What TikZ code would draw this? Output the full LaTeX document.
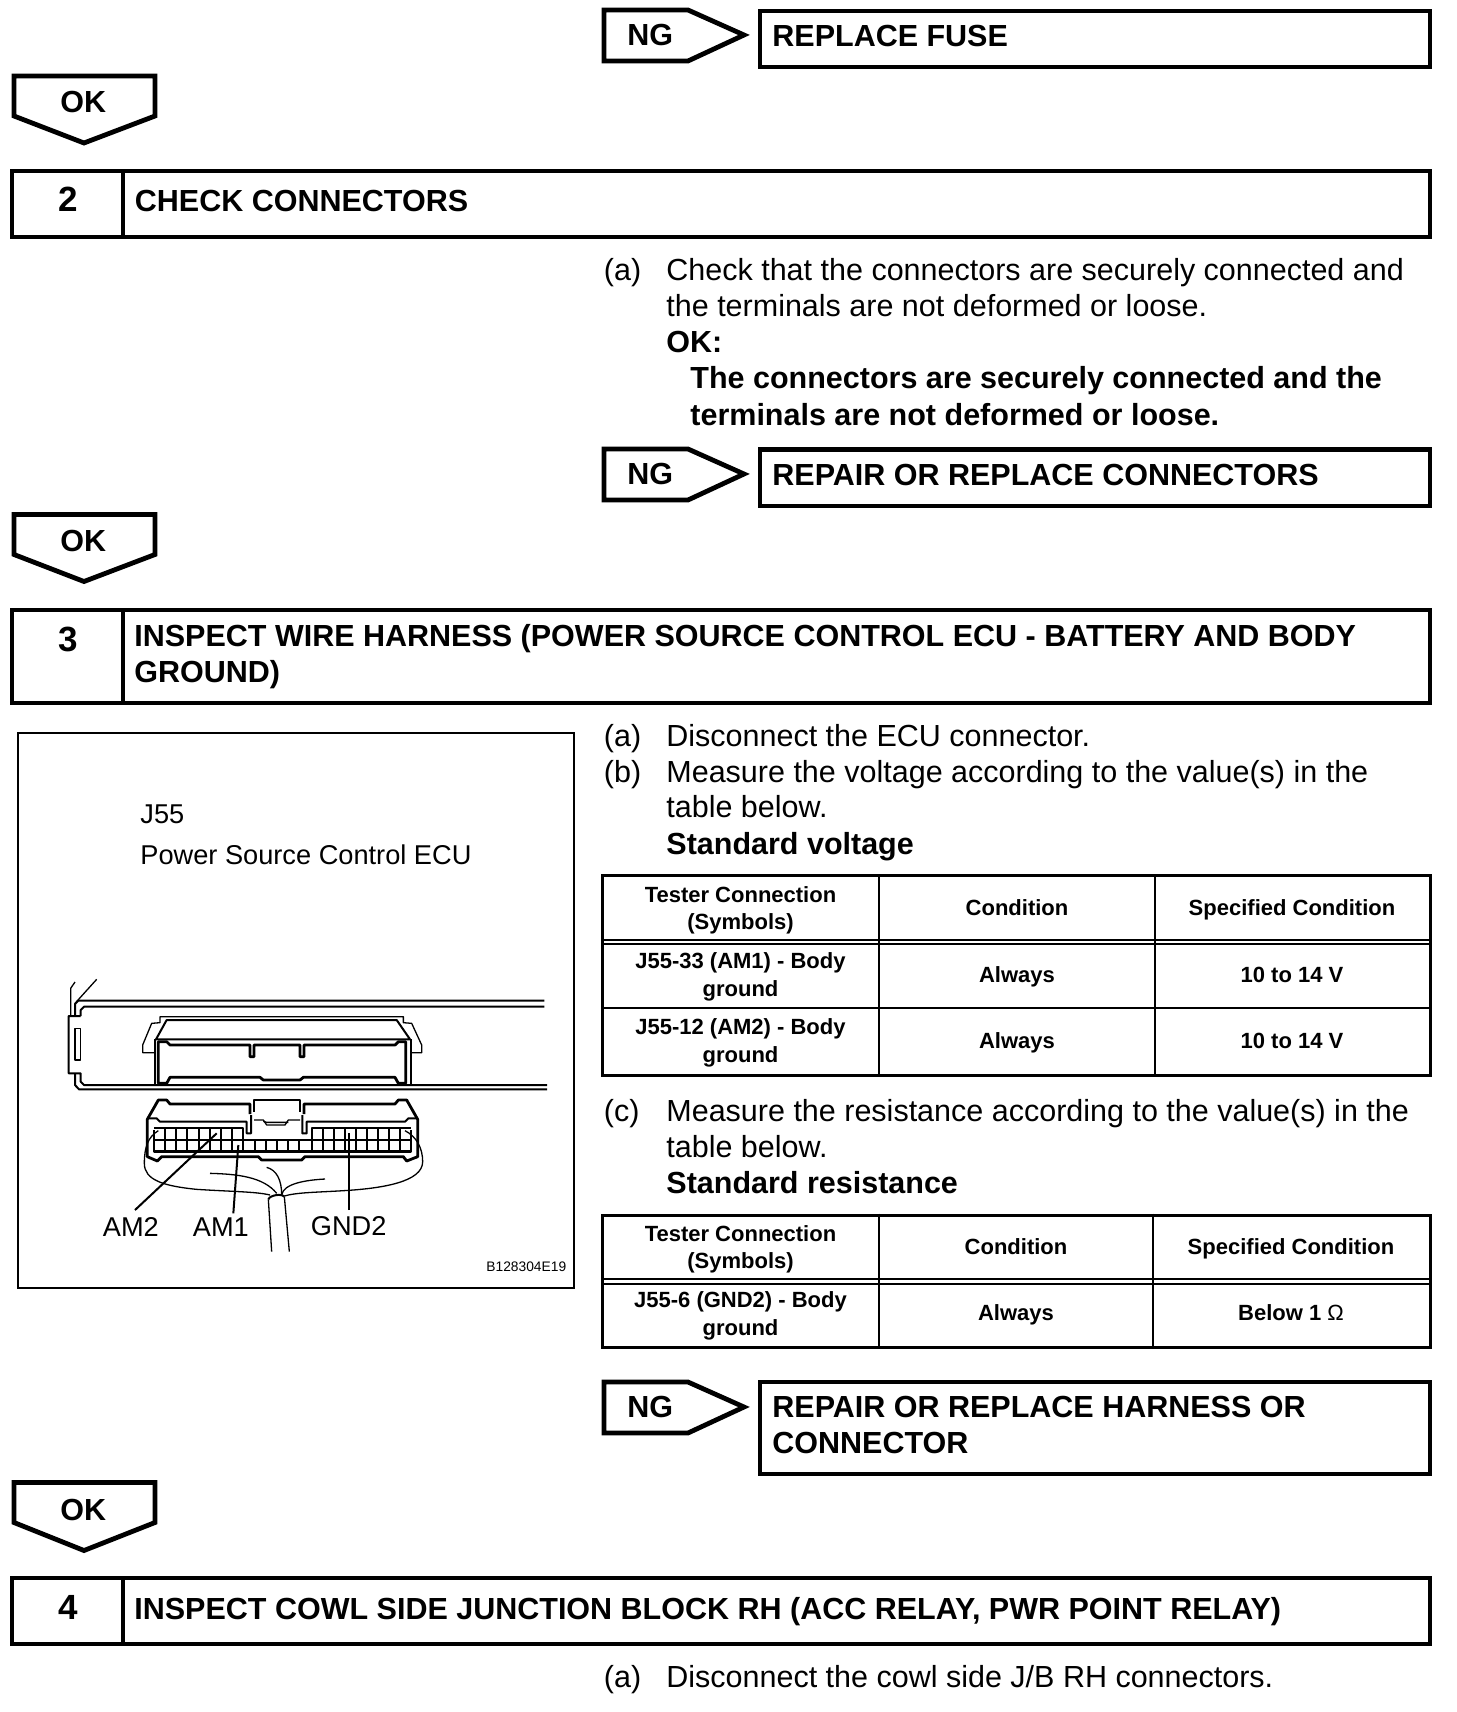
\documentclass[tikz,border=0pt]{standalone}
\usepackage{fontspec}
\setmainfont{Liberation Sans}
\tikzset{
  body/.style={anchor=base west,inner sep=0pt,font=\fontsize{15.25}{18}\selectfont},
  bodyb/.style={anchor=base west,inner sep=0pt,font=\fontsize{15.25}{18}\selectfont\bfseries},
  numb/.style={anchor=base,inner sep=0pt,font=\fontsize{17.5}{20}\selectfont\bfseries},
  cell/.style={anchor=base,inner sep=0pt,font=\fontsize{11}{13}\selectfont\bfseries},
  lab/.style={anchor=base west,inner sep=0pt,font=\fontsize{13.6}{16}\selectfont},
  code/.style={anchor=base west,inner sep=0pt,font=\fontsize{6.9}{8}\selectfont},
  hvy/.style={draw=black,line width=2.4pt,line join=miter},
  tabo/.style={draw=black,line width=1.5pt},
  tabi/.style={draw=black,line width=1pt},
  frm/.style={draw=black,line width=1pt},
  thn/.style={draw=black,line width=.65pt,line join=round},
  med/.style={draw=black,line width=1pt,line join=round},
  bld/.style={draw=black,line width=1.4pt,line join=round},
}
\begin{document}
\begin{tikzpicture}[x=0.5pt,y=-0.5pt]
\useasboundingbox (0,0) rectangle (1456,1712);
% ---------- top NG box
\draw[hvy] (604,10) -- (688,10) -- (744,35) -- (688,61) -- (604,61) -- cycle;
\node[bodyb] (ng1) at (627,46) {NG};
\draw[hvy] (760,11) rectangle (1430,67);
\node[bodyb] (r1) at (772,47) {REPLACE FUSE};
% ---------- OK 1
\draw[hvy] (14,76) -- (155,76) -- (155,116) -- (84,143) -- (14,116) -- cycle;
\node[bodyb] (ok1) at (60,113) {OK};
% ---------- header 2
\draw[hvy] (12,171) rectangle (1430,237);
\draw[hvy] (123,171) -- (123,237);
\node[numb] (n2) at (68,212) {2};
\node[bodyb] (h2) at (134.5,212) {CHECK CONNECTORS};
% ---------- step 2 text
\node[body] (a2) at (603.5,280) {(a)};
\node[body] (a2t) at (666,280) {Check that the connectors are securely connected and};
\node[body] (a2u) at (666,316) {the terminals are not deformed or loose.};
\node[bodyb] (ok2l) at (666,352) {OK:};
\node[bodyb] (ok2a) at (690,388) {The connectors are securely connected and the};
\node[bodyb] (ok2b) at (690,425) {terminals are not deformed or loose.};
% ---------- NG 2
\draw[hvy] (604,449) -- (688,449) -- (744,474) -- (688,500) -- (604,500) -- cycle;
\node[bodyb] (ng2) at (627,484) {NG};
\draw[hvy] (760,449.5) rectangle (1430,506);
\node[bodyb] (r2) at (772,485) {REPAIR OR REPLACE CONNECTORS};
% ---------- OK 2
\draw[hvy] (14,514.5) -- (155,514.5) -- (155,554.5) -- (84,581.5) -- (14,554.5) -- cycle;
\node[bodyb] (ok2) at (60,551.5) {OK};
% ---------- header 3
\draw[hvy] (12,610) rectangle (1430,703);
\draw[hvy] (123,610) -- (123,703);
\node[numb] (n3) at (68,651) {3};
\node[bodyb] (h3a) at (134,646) {INSPECT WIRE HARNESS (POWER SOURCE CONTROL ECU - BATTERY AND BODY};
\node[bodyb] (h3b) at (134,682) {GROUND)};
% ---------- step 3 text
\node[body] (a3) at (603.5,746) {(a)};
\node[body] (a3t) at (666,746) {Disconnect the ECU connector.};
\node[body] (b3) at (603.5,782) {(b)};
\node[body] (b3t) at (666,782) {Measure the voltage according to the value(s) in the};
\node[body] (b3u) at (666,817) {table below.};
\node[bodyb] (sv) at (666,854) {Standard voltage};
% ---------- table 1
\draw[tabo] (602.5,875.5) rectangle (1430,1075);
\draw[tabi] (878.5,875) -- (878.5,1075);
\draw[tabi] (1154.5,875) -- (1154.5,1075);
\draw[tabi] (602.5,940) -- (1430,940);
\draw[tabi] (602.5,944) -- (1430,944);
\draw[tabi] (602.5,1008) -- (1430,1008);
\node[cell] (t1a) at (740.5,902.5) {Tester Connection};
\node[cell] (t1b) at (740.5,929.5) {(Symbols)};
\node[cell] (t1c) at (1017,915.5) {Condition};
\node[cell] (t1d) at (1292,915.5) {Specified Condition};
\node[cell] (t1e) at (740.5,968) {J55-33 (AM1) - Body};
\node[cell] (t1f) at (740.5,996) {ground};
\node[cell] (t1g) at (1017,982) {Always};
\node[cell] (t1h) at (1292,982) {10 to 14 V};
\node[cell] (t1i) at (740.5,1034.5) {J55-12 (AM2) - Body};
\node[cell] (t1j) at (740.5,1062) {ground};
\node[cell] (t1k) at (1017,1048.5) {Always};
\node[cell] (t1l) at (1292,1048.5) {10 to 14 V};
% ---------- step c
\node[body] (c3) at (603.5,1121) {(c)};
\node[body] (c3t) at (666,1121) {Measure the resistance according to the value(s) in the};
\node[body] (c3u) at (666,1157) {table below.};
\node[bodyb] (sr) at (666,1193) {Standard resistance};
% ---------- table 2
\draw[tabo] (602.5,1215) rectangle (1430,1347);
\draw[tabi] (878.5,1213.5) -- (878.5,1347);
\draw[tabi] (1152.5,1213.5) -- (1152.5,1347);
\draw[tabi] (602.5,1279) -- (1430,1279);
\draw[tabi] (602.5,1284) -- (1430,1284);
\node[cell] (t2a) at (740.5,1241) {Tester Connection};
\node[cell] (t2b) at (740.5,1268) {(Symbols)};
\node[cell] (t2c) at (1016,1254) {Condition};
\node[cell] (t2d) at (1291,1254) {Specified Condition};
\node[cell] (t2e) at (740.5,1307.5) {J55-6 (GND2) - Body};
\node[cell] (t2f) at (740.5,1335) {ground};
\node[cell] (t2g) at (1016,1320.5) {Always};
\node[cell] (t2h) at (1291,1320.5) {Below 1 {\mdseries Ω}};
% ---------- NG 3
\draw[hvy] (604,1382) -- (688,1382) -- (744,1407) -- (688,1433) -- (604,1433) -- cycle;
\node[bodyb] (ng3) at (627,1417) {NG};
\draw[hvy] (760,1382) rectangle (1430,1474);
\node[bodyb] (r3a) at (772,1417) {REPAIR OR REPLACE HARNESS OR};
\node[bodyb] (r3b) at (772,1453) {CONNECTOR};
% ---------- OK 3
\draw[hvy] (14,1482.5) -- (155,1482.5) -- (155,1522.5) -- (84,1550.5) -- (14,1522.5) -- cycle;
\node[bodyb] (ok3) at (60,1520) {OK};
% ---------- header 4
\draw[hvy] (12,1578) rectangle (1430,1644);
\draw[hvy] (123,1578) -- (123,1644);
\node[numb] (n4) at (68,1619) {4};
\node[bodyb] (h4) at (134,1619) {INSPECT COWL SIDE JUNCTION BLOCK RH (ACC RELAY, PWR POINT RELAY)};
\node[body] (a4) at (603.5,1687) {(a)};
\node[body] (a4t) at (666,1687) {Disconnect the cowl side J/B RH connectors.};
% ---------- illustration frame
\draw[frm] (17.5,732.5) rectangle (574,1288);
\node[lab] (j55) at (140,823) {J55};
\node[lab] (psc) at (140,864) {Power Source Control ECU};
\node[lab] (am2) at (102.5,1236) {AM2};
\node[lab] (am1) at (192.5,1236) {AM1};
\node[lab] (gnd2) at (310.5,1235) {GND2};
\node[code] (code) at (486,1271) {B128304E19};
% ---------- ECU drawing, in 3x crop coordinates
\begin{scope}[xshift=25pt,yshift=-480pt,x=0.16667pt,y=-0.16667pt]
  % housing
  \draw[med] (1483,122) -- (85,122) -- (75,132) -- (75,168);
  \draw[med] (1483,140) -- (102,140) -- (92,150) -- (92,168);
  \draw[thn] (62,168) -- (62,85) -- (75,66);
  \draw[thn] (75,130) -- (140,58);
  \draw[med] (92,168) -- (56,168) -- (56,340) -- (92,340) -- (92,365) -- (102,375) -- (1491,375);
  \draw[med] (75,340) -- (75,375) -- (87,388) -- (1491,388);
  \draw[thn] (75,205) rectangle (92,300);
  % upper connector outline
  \draw[thn] (312,278) -- (278,278) -- (278,255) -- (305,190) -- (330,188) -- (330,170) -- (1060,170) -- (1060,188) -- (1085,190) -- (1115,255) -- (1115,278) -- (1082,278);
  \draw[med] (318,238) -- (350,180) -- (1040,180) -- (1080,238) -- cycle;
  \draw[med] (315,238) -- (315,375) -- (1082,375) -- (1082,238);
  \draw[bld] (325,245) -- (350,245) -- (360,255) -- (600,255) -- (600,290) -- (612,290) -- (612,255) -- (750,255) -- (750,290) -- (762,290) -- (762,255) -- (1035,255) -- (1045,245) -- (1067,245) -- (1067,370) -- (1045,370) -- (1035,352) -- (760,352) -- (750,360) -- (640,360) -- (630,352) -- (360,352) -- (350,370) -- (325,370) -- cycle;
  % lower connector
  \draw[bld] (292,570) -- (292,478) -- (325,420) -- (350,420) -- (360,432) -- (600,432) -- (600,462);
  \draw[bld] (612,455) -- (612,420) -- (750,420) -- (750,455);
  \draw[bld] (762,462) -- (762,432) -- (1035,432) -- (1045,420) -- (1070,420) -- (1103,478) -- (1103,570);
  \draw[med] (292,475) -- (320,475) -- (330,485) -- (590,485) -- (590,520) -- (603,520) -- (603,465);
  \draw[med] (1103,475) -- (1075,475) -- (1065,485) -- (770,485) -- (770,520) -- (757,520) -- (757,465);
  \draw[thn] (612,480) -- (640,480) -- (650,495) -- (705,495) -- (715,480) -- (750,480);
  \draw[thn] (640,484) -- (650,487) -- (715,487);
  % contact grid
  \draw[med] (312,505) -- (580,505) -- (580,540);
  \draw[med] (785,540) -- (785,505) -- (1083,505);
  \draw[bld] (312,540) rectangle (1083,575);
  \foreach \gx in {345,379,412,446,480,513,547,580,614,648,681,715,748,785,818,851,885,918,951,985,1018,1050}
    \draw[med] (\gx,540) -- (\gx,575);
  \foreach \gx in {345,379,412,446,480,513,547,785,818,851,885,918,951,985,1018,1050}
    \draw[med] (\gx,505) -- (\gx,540);
  \draw[med] (312,540) -- (312,510) (1083,540) -- (1083,510);
  % bottom rim
  \draw[bld] (292,570) -- (292,590) -- (322,603) -- (335,590) -- (625,590) -- (635,600) -- (755,600) -- (765,590) -- (1060,590) -- (1070,603) -- (1103,590) -- (1103,570);
  % cover
  \draw[thn] (325,512) .. controls (295,530) and (283,560) .. (283,610) .. controls (283,660) and (340,678) .. (440,688) .. controls (550,695) and (620,695) .. (660,705);
  \draw[thn] (1065,512) .. controls (1100,530) and (1118,565) .. (1118,605) .. controls (1118,665) and (1000,685) .. (880,692) .. controls (800,697) and (740,697) .. (703,708);
  % wires
  \draw[thn] (480,640) .. controls (560,642) and (640,650) .. (680,700);
  \draw[thn] (650,622) .. controls (680,630) and (695,660) .. (695,705);
  \draw[thn] (825,657) .. controls (770,660) and (700,670) .. (695,705);
  % cable
  \draw[med] (655,718) .. controls (660,705) and (695,700) .. (703,710);
  \draw[thn] (655,718) -- (665,875);
  \draw[thn] (703,710) -- (718,875);
  % leaders
  \coordinate (la) at (255,750); \coordinate (lb) at (500,520);
  \coordinate (lc) at (550,760); \coordinate (ld) at (565,555);
  \coordinate (le) at (897,750); \coordinate (lf) at (897,520);
  \draw[med] (la) -- (lb);
  \draw[med] (lc) -- (ld);
  \draw[med] (le) -- (lf);
\end{scope}
\end{tikzpicture}
\end{document}
